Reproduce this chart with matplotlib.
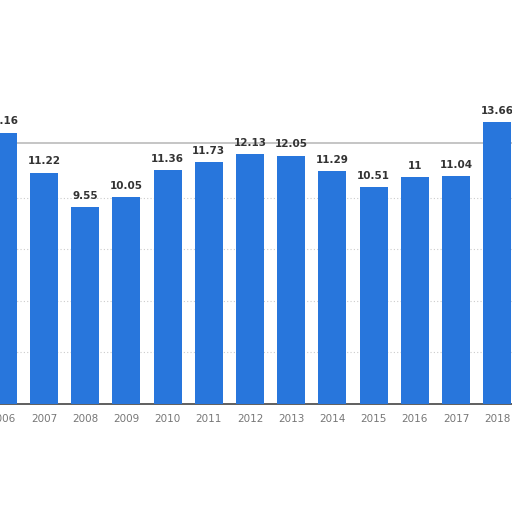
import matplotlib
matplotlib.use("Agg")
import matplotlib.pyplot as plt

years = ["2006", "2007", "2008", "2009", "2010", "2011", "2012", "2013",
         "2014", "2015", "2016", "2017", "2018"]
values = [13.16, 11.22, 9.55, 10.05, 11.36, 11.73, 12.13, 12.05,
          11.29, 10.51, 11.0, 11.04, 13.66]
labels = ["13.16", "11.22", "9.55", "10.05", "11.36", "11.73", "12.13", "12.05",
          "11.29", "10.51", "11", "11.04", "13.66"]
grid_levels = [2.5, 5, 7.5, 10]

fig = plt.figure(figsize=(5.12, 5.12), dpi=100)
ax = fig.add_axes([0, 0.211, 1, 0.789])
x = list(range(len(years)))
ax.bar(x, values, width=0.68, color="#2876dc", zorder=3)
ax.set_xlim(-0.068, 12.36)
ax.set_ylim(0, 19.6)
ax.set_yticks(grid_levels)
ax.grid(axis="y", color="#cccccc", linestyle=(0, (1, 2)), linewidth=0.8, zorder=0)
ax.axhline(12.65, color="#bbbbbb", linewidth=1.2, zorder=1)
ax.set_yticklabels([])
ax.tick_params(axis="y", length=0)
ax.set_xticks(x)
ax.set_xticklabels(years, fontsize=7.5, color="#777777")
ax.tick_params(axis="x", length=0, pad=7)
for s in ["top", "right", "left"]:
    ax.spines[s].set_visible(False)
ax.spines["bottom"].set_color("#444444")
ax.spines["bottom"].set_linewidth(1.2)
for xi, v, lab in zip(x, values, labels):
    ax.annotate(lab, (xi, v), xytext=(0, 4.5), textcoords="offset points",
                ha="center", va="bottom", fontsize=7.5, fontweight="bold",
                color="#333333", zorder=4)
fig.savefig("out.png", dpi=100)
